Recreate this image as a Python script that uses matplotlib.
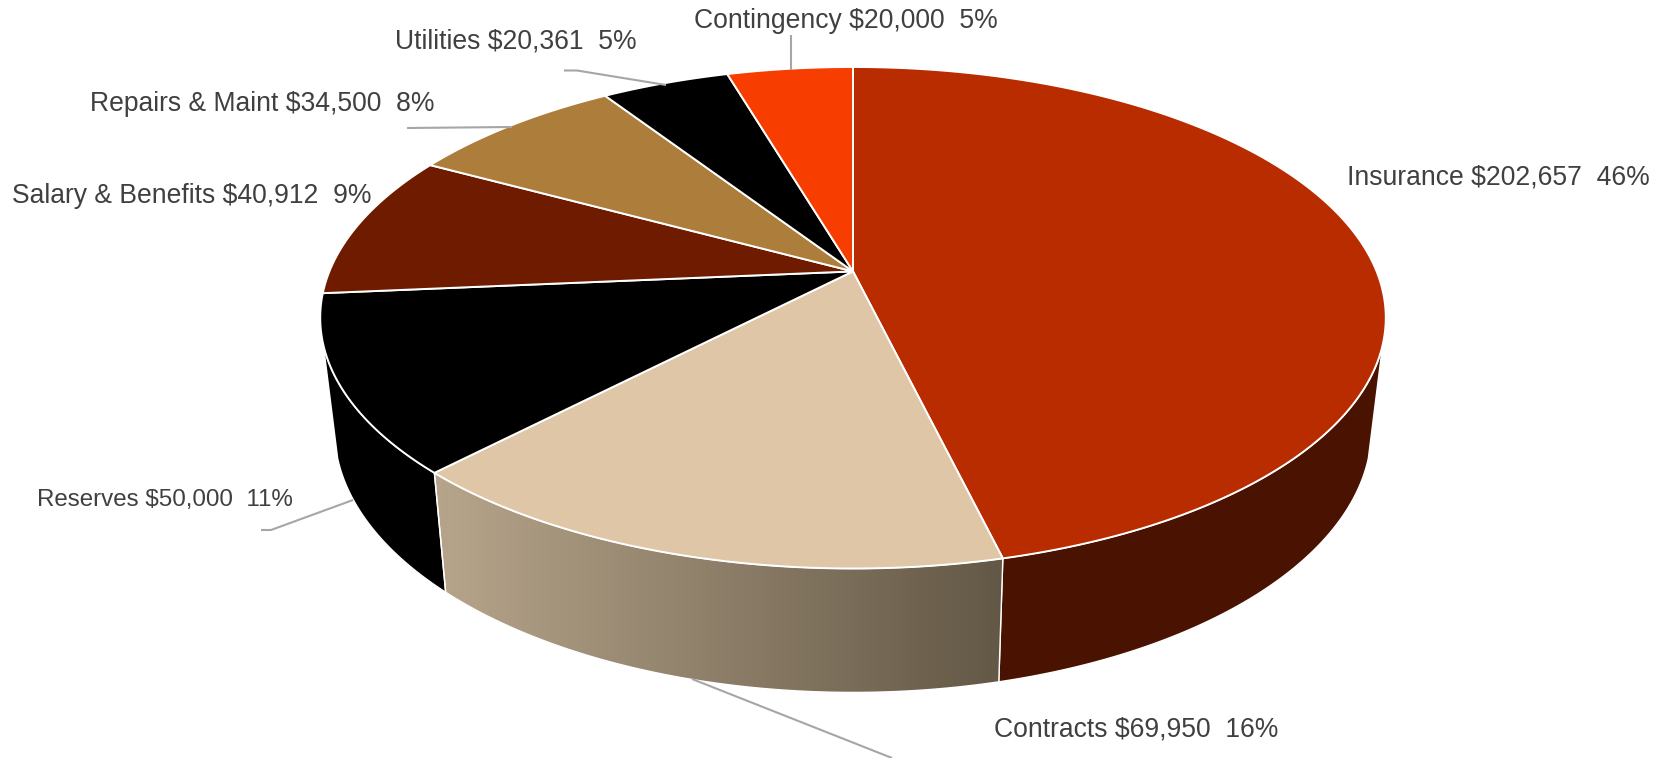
import numpy as np
import matplotlib
matplotlib.use("Agg")
import matplotlib.pyplot as plt
from matplotlib.colors import LinearSegmentedColormap
from matplotlib.patches import Polygon

plt.rcParams["font.family"] = ["Liberation Sans", "DejaVu Sans"]

# Budget figures, clockwise from twelve o'clock
categories = ["Insurance", "Contracts", "Reserves", "Salary & Benefits",
              "Repairs & Maint", "Utilities", "Contingency"]
amounts = [202657, 69950, 50000, 40912, 34500, 20361, 20000]
percents = [46, 16, 11, 9, 8, 5, 5]

face_colors = ["#B82C00", "#DFC6A7", "#000000", "#6E1B00", "#AD7D3C", "#000000", "#F73E00"]
wall_colors = ["#4A1200", None, "#000000", None, None, None, None]
wall_gradient = ["#B7A58B", "#635846"]

# Label anchors: left edge, vertical centre, font size
label_x = [1347, 994, 37, 12, 90, 395, 694]
label_y = [178, 730, 500, 196, 104, 42, 21]
label_size = [19.1, 19.1, 17.4, 19.1, 19.1, 19.1, 19.1]

# Leader polylines from label to rim
leaders = [
    None,
    [(892, 758), (692, 679)],
    [(261, 530), (271, 530), (353, 500)],
    None,
    [(407, 128), (512, 127)],
    [(564, 70.5), (577, 70.5), (666, 85)],
    [(790.5, 35), (790.5, 70)],
]

W, H = 1669, 758
fig = plt.figure(figsize=(W / 100, H / 100), dpi=100, facecolor="white")
ax = fig.add_axes([0, 0, 1, 1])

# Perspective model of the disc: top and bottom rims of the cylinder
CX, CY = 853.0, 271.4
K = 0.1848
TOP = dict(a=523.6, b=242.2, y0=CY)
BOTTOM = dict(a=509.5, b=253.7, y0=381.2)
TANGENT = (106.7, 253.3)


def rim(deg, ring):
    t = np.radians(deg)
    u, v = np.sin(t), np.cos(t)
    d = 1 + K * v
    return np.column_stack((CX + ring["a"] * u / d, ring["y0"] - ring["b"] * v / d))


def arc(a0, a1, ring):
    return rim(np.linspace(a0, a1, max(int(abs(a1 - a0) * 3), 2)), ring)


edges = np.concatenate(([0.0], np.cumsum(amounts))) / np.sum(amounts) * 360.0

# Side walls: only the front-facing stretch of the rim is visible
for i in range(len(amounts)):
    a0 = max(edges[i], TANGENT[0])
    a1 = min(edges[i + 1], TANGENT[1])
    if a1 <= a0:
        continue
    outline = np.vstack((arc(a0, a1, TOP), arc(a1, a0, BOTTOM)))
    if wall_colors[i] is not None:
        ax.add_patch(Polygon(outline, closed=True, facecolor=wall_colors[i],
                             edgecolor="white", lw=1.0, zorder=2, joinstyle="round"))
    else:
        poly = Polygon(outline, closed=True, facecolor="none", edgecolor="none", zorder=2)
        ax.add_patch(poly)
        x0, x1 = outline[:, 0].min(), outline[:, 0].max()
        y0, y1 = outline[:, 1].min(), outline[:, 1].max()
        cmap = LinearSegmentedColormap.from_list("wall", wall_gradient)
        img = ax.imshow(np.linspace(0, 1, 256)[None, :], extent=(x0, x1, y1, y0), cmap=cmap,
                        aspect="auto", zorder=2, interpolation="bilinear")
        img.set_clip_path(poly)
        ax.add_patch(Polygon(outline, closed=True, facecolor="none",
                             edgecolor="white", lw=1.0, zorder=2.5))

# Top face wedges
for i in range(len(amounts)):
    outline = np.vstack(([[CX, CY]], arc(edges[i], edges[i + 1], TOP)))
    ax.add_patch(Polygon(outline, closed=True, facecolor=face_colors[i],
                         edgecolor="white", lw=1.4, zorder=3, joinstyle="round"))

# Leader lines run just onto the rim
for path in leaders:
    if path:
        xs, ys = zip(*path)
        ax.plot(xs, ys, color="#A6A6A6", lw=1.5, solid_capstyle="butt", zorder=4)

# Category labels with amount and share
for name, amount, pct, x, y, size in zip(categories, amounts, percents,
                                         label_x, label_y, label_size):
    ax.text(x, y, f"{name} ${amount:,}  {pct}%", fontsize=size, color="#404040",
            ha="left", va="center", zorder=5)

ax.set_xlim(0, W)
ax.set_ylim(H, 0)
ax.axis("off")
fig.savefig("out.png", dpi=100, facecolor="white")
